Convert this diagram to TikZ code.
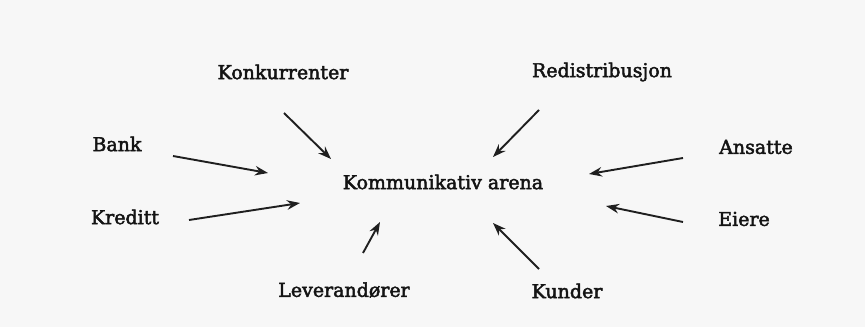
\documentclass[tikz,border=0pt]{standalone}
\usepackage{fontspec}
\setmainfont{DejaVu Serif}[FakeBold=2.5]
\usetikzlibrary{arrows.meta}

\tikzset{
    actor/.style={inner sep=1pt, text=black!92, font=\fontsize{19}{22}\selectfont},
    flow/.style={-{Stealth[length=13pt,width=9.5pt]}, line width=1.9pt, draw=black!88}
}

\begin{document}
\begin{tikzpicture}[x=1pt, y=1pt]
    \fill [black!3] (0,0) rectangle (865,327);
    \useasboundingbox (0,0) rectangle (865,327);

    % Nodes {arena and the actors round it}
    \node [actor]   (arena)  at (443,145)  {Kommunikativ arena};
    \node [actor]   (kon)    at (283,255)  {Konkurrenter};
    \node [actor]   (red)    at (602,255)  {Redistribusjon};
    \node [actor]   (bank)   at (117,183)  {Bank};
    \node [actor]   (ans)    at (756,180)  {Ansatte};
    \node [actor]   (kred)   at (125,110)  {Kreditt};
    \node [actor]   (eie)    at (744,108)  {Eiere};
    \node [actor]   (lev)    at (344,37)   {Leverandører};
    \node [actor]   (kun)    at (567,36)   {Kunder};

    % Arrow ends (tails by the actors, heads by the arena)
    \coordinate (kon-t)  at (284,214);  \coordinate (kon-h)  at (331,168);
    \coordinate (red-t)  at (539,217);  \coordinate (red-h)  at (493,170);
    \coordinate (bank-t) at (173,171);  \coordinate (bank-h) at (268,154);
    \coordinate (ans-t)  at (683,169);  \coordinate (ans-h)  at (589,153);
    \coordinate (kred-t) at (189,107);  \coordinate (kred-h) at (300,124);
    \coordinate (eie-t)  at (683,105);  \coordinate (eie-h)  at (606,121);
    \coordinate (lev-t)  at (363,74);   \coordinate (lev-h)  at (380,105);
    \coordinate (kun-t)  at (539,58);   \coordinate (kun-h)  at (493,104);

    % Paths
    \draw [flow] (kon-t)  -- (kon-h);
    \draw [flow] (red-t)  -- (red-h);
    \draw [flow] (bank-t) -- (bank-h);
    \draw [flow] (ans-t)  -- (ans-h);
    \draw [flow] (kred-t) -- (kred-h);
    \draw [flow] (eie-t)  -- (eie-h);
    \draw [flow] (lev-t)  -- (lev-h);
    \draw [flow] (kun-t)  -- (kun-h);

\end{tikzpicture}
\end{document}
